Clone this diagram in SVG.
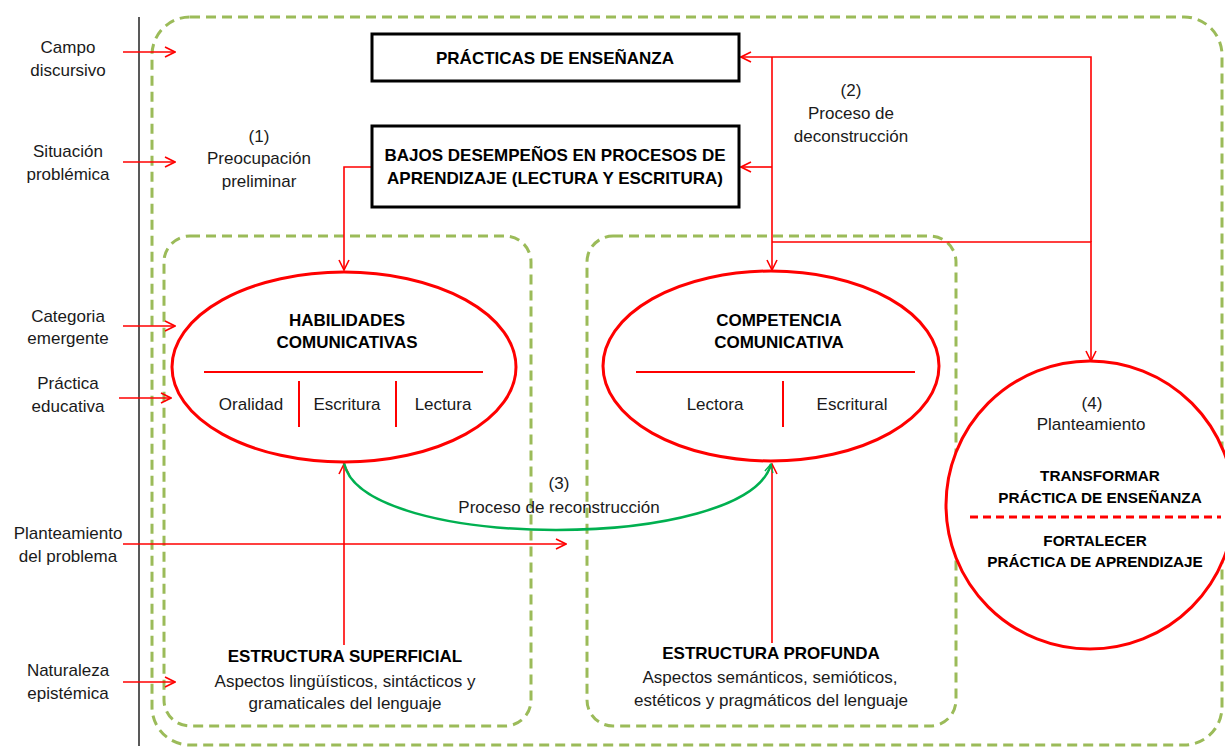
<svg xmlns="http://www.w3.org/2000/svg" width="1225" height="752" viewBox="0 0 1225 752">
<style>
  .t{font-family:"Liberation Sans",Arial,sans-serif;font-size:17px;fill:#1a1a1a;text-anchor:middle}
  .b{font-family:"Liberation Sans",Arial,sans-serif;font-size:17px;font-weight:bold;fill:#000;text-anchor:middle}
  .bs{font-family:"Liberation Sans",Arial,sans-serif;font-size:15.3px;font-weight:bold;fill:#000;text-anchor:middle}
  .gd{fill:none;stroke:#9bbb59;stroke-width:3;stroke-dasharray:10 6}
  .box{fill:#fff;stroke:#000;stroke-width:3}
  .ell{fill:#fff;stroke:#ff0000;stroke-width:3}
  .rl{fill:none;stroke:#ff0000;stroke-width:1.6}
  .div{stroke:#ff0000;stroke-width:2}
</style>
<defs>
  <marker id="ar" viewBox="0 0 12 12" refX="11" refY="6" markerWidth="12" markerHeight="12" markerUnits="userSpaceOnUse" orient="auto">
    <path d="M1,1 L11,6 L1,11" fill="none" stroke="#ff0000" stroke-width="1.6"/>
  </marker>
  <marker id="ag" viewBox="0 0 12 12" refX="11" refY="6" markerWidth="10" markerHeight="10" markerUnits="userSpaceOnUse" orient="auto">
    <path d="M1,1 L11,6 L1,11" fill="none" stroke="#00b050" stroke-width="1.6"/>
  </marker>
</defs>
<rect width="1225" height="752" fill="#fff"/>

<g id="frames">
  <line x1="139" y1="17" x2="139" y2="746" stroke="#222" stroke-width="1.5"/>
  <rect class="gd" x="152" y="17" width="1070" height="728" rx="38"/>
  <rect class="gd" x="164" y="236" width="367" height="490" rx="26"/>
  <rect class="gd" x="587" y="236" width="369" height="490" rx="26"/>
</g>

<g id="side-labels">
  <text class="t" x="68" y="53">Campo</text>
  <text class="t" x="68" y="76">discursivo</text>
  <text class="t" x="68" y="157">Situación</text>
  <text class="t" x="68" y="180">problémica</text>
  <text class="t" x="68" y="322">Categoria</text>
  <text class="t" x="68" y="344">emergente</text>
  <text class="t" x="68" y="389">Práctica</text>
  <text class="t" x="68" y="412">educativa</text>
  <text class="t" x="68" y="539">Planteamiento</text>
  <text class="t" x="68" y="562">del problema</text>
  <text class="t" x="68" y="676">Naturaleza</text>
  <text class="t" x="68" y="699">epistémica</text>
</g>

<g id="connectors">
  <line class="rl" x1="123" y1="52" x2="175" y2="52" marker-end="url(#ar)"/>
  <line class="rl" x1="123" y1="162" x2="175" y2="162" marker-end="url(#ar)"/>
  <line class="rl" x1="123" y1="326" x2="175" y2="326" marker-end="url(#ar)"/>
  <line class="rl" x1="119" y1="398" x2="171" y2="398" marker-end="url(#ar)"/>
  <line class="rl" x1="123" y1="544" x2="566" y2="544" marker-end="url(#ar)"/>
  <line class="rl" x1="123" y1="682" x2="175" y2="682" marker-end="url(#ar)"/>
  <polyline class="rl" points="1091,242 1091,57 741,57" marker-end="url(#ar)"/>
  <line class="rl" x1="772" y1="57" x2="772" y2="270" marker-end="url(#ar)"/>
  <line class="rl" x1="772" y1="167" x2="741" y2="167" marker-end="url(#ar)"/>
  <polyline class="rl" points="772,242 1091,242 1091,361" marker-end="url(#ar)"/>
  <polyline class="rl" points="372,167 344,167 344,270" marker-end="url(#ar)"/>
  <line class="rl" x1="344" y1="645" x2="344" y2="464" marker-end="url(#ar)"/>
  <line class="rl" x1="772" y1="643" x2="772" y2="464" marker-end="url(#ar)"/>
  <path d="M344,463 C362,552 748,552 771,464" fill="none" stroke="#00b050" stroke-width="2.5" marker-end="url(#ag)"/>
</g>

<g id="node-practicas">
  <rect class="box" x="372" y="34" width="367" height="47"/>
  <text class="b" x="555" y="64">PRÁCTICAS DE ENSEÑANZA</text>
</g>

<g id="node-bajos">
  <rect class="box" x="372" y="126" width="367" height="81"/>
  <text class="b" x="555" y="161">BAJOS DESEMPEÑOS EN PROCESOS DE</text>
  <text class="b" x="555" y="184">APRENDIZAJE (LECTURA Y ESCRITURA)</text>
</g>

<g id="label-1">
  <text class="t" x="259" y="142">(1)</text>
  <text class="t" x="259" y="164">Preocupación</text>
  <text class="t" x="259" y="187">preliminar</text>
</g>

<g id="label-2">
  <text class="t" x="851" y="96">(2)</text>
  <text class="t" x="851" y="119">Proceso de</text>
  <text class="t" x="851" y="142">deconstrucción</text>
</g>

<g id="node-habilidades">
  <ellipse class="ell" cx="344" cy="367" rx="172" ry="95"/>
  <text class="b" x="347" y="326">HABILIDADES</text>
  <text class="b" x="347" y="348">COMUNICATIVAS</text>
  <line class="div" x1="204" y1="372" x2="483" y2="372" stroke-width="2.5"/>
  <line class="div" x1="299" y1="381" x2="299" y2="427"/>
  <line class="div" x1="396" y1="381" x2="396" y2="427"/>
  <text class="t" x="251" y="410">Oralidad</text>
  <text class="t" x="347" y="410">Escritura</text>
  <text class="t" x="443" y="410">Lectura</text>
</g>

<g id="node-competencia">
  <ellipse class="ell" cx="771" cy="366" rx="168" ry="95"/>
  <text class="b" x="779" y="326">COMPETENCIA</text>
  <text class="b" x="779" y="348">COMUNICATIVA</text>
  <line class="div" x1="636" y1="372" x2="915" y2="372" stroke-width="2.5"/>
  <line class="div" x1="783" y1="381" x2="783" y2="427"/>
  <text class="t" x="715" y="410">Lectora</text>
  <text class="t" x="852" y="410">Escritural</text>
</g>

<g id="label-3">
  <text class="t" x="559" y="489">(3)</text>
  <text class="t" x="559" y="513">Proceso de reconstrucción</text>
</g>

<g id="node-superficial">
  <text class="b" x="345" y="662">ESTRUCTURA SUPERFICIAL</text>
  <text class="t" x="345" y="687">Aspectos lingüísticos, sintácticos y</text>
  <text class="t" x="345" y="709">gramaticales del lenguaje</text>
</g>

<g id="node-profunda">
  <text class="b" x="771" y="659">ESTRUCTURA PROFUNDA</text>
  <text class="t" x="770" y="683">Aspectos semánticos, semióticos,</text>
  <text class="t" x="771" y="706">estéticos y pragmáticos del lenguaje</text>
</g>

<g id="node-planteamiento">
  <circle class="ell" cx="1090" cy="505" r="144"/>
  <text class="t" x="1092" y="409">(4)</text>
  <text class="t" x="1091" y="430">Planteamiento</text>
  <text class="bs" x="1100" y="481">TRANSFORMAR</text>
  <text class="bs" x="1100" y="503">PRÁCTICA DE ENSEÑANZA</text>
  <line x1="970" y1="517" x2="1221" y2="517" stroke="#ff0000" stroke-width="3" stroke-dasharray="8 5"/>
  <text class="bs" x="1095" y="546">FORTALECER</text>
  <text class="bs" x="1095" y="567">PRÁCTICA DE APRENDIZAJE</text>
</g>
</svg>
